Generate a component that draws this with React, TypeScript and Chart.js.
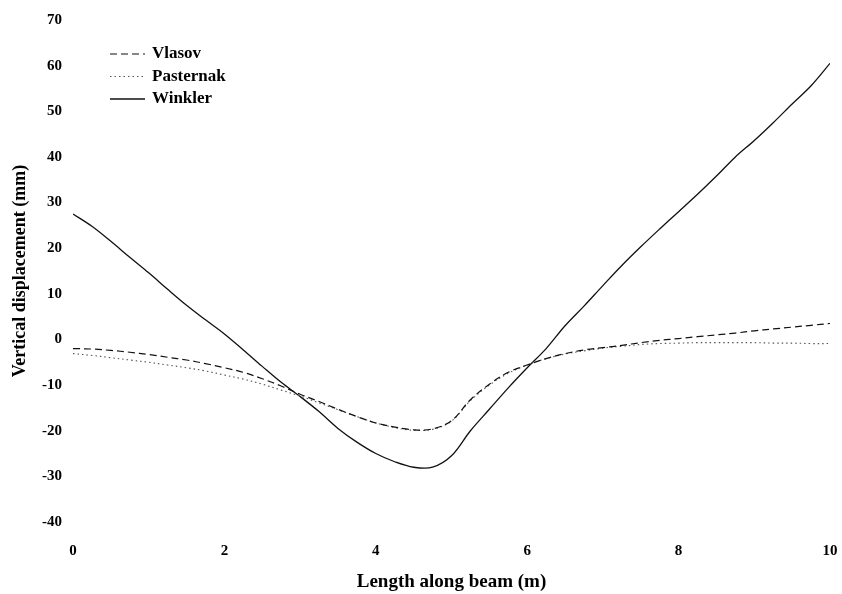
import React, { useEffect, useRef } from "react";
import { Chart, registerables } from "chart.js";

Chart.register(...registerables);

// x positions along the beam (m)
const xPositions: number[] = [
  0, 0.25, 0.5, 0.75, 1, 1.25, 1.5, 1.75, 2, 2.25, 2.5, 2.75, 3, 3.25, 3.5, 3.75, 4, 4.25, 4.5, 4.75,
  5, 5.25, 5.5, 5.75, 6, 6.25, 6.5, 6.75, 7, 7.25, 7.5, 7.75, 8, 8.25, 8.5, 8.75, 9, 9.25, 9.5, 9.75, 10,
];

const vlasov: number[] = [
  -2.0, -2.1, -2.4, -2.8, -3.3, -3.9, -4.5, -5.3, -6.2, -7.2, -8.6, -10.2, -12.0, -13.6, -15.3, -16.9,
  -18.3, -19.2, -19.8, -19.6, -17.8, -13.2, -9.8, -7.2, -5.6, -4.2, -3.1, -2.3, -1.8, -1.3, -0.7, -0.2,
  0.2, 0.6, 1.0, 1.4, 1.9, 2.3, 2.7, 3.1, 3.5,
];

const pasternak: number[] = [
  -3.1, -3.5, -4.0, -4.5, -5.0, -5.6, -6.2, -6.9, -7.8, -8.7, -9.8, -11.1, -12.4, -13.9, -15.4, -16.9,
  -18.3, -19.3, -19.9, -19.7, -17.9, -13.4, -10.0, -7.4, -5.6, -4.2, -3.2, -2.5, -1.9, -1.5, -1.1, -0.9,
  -0.8, -0.7, -0.7, -0.7, -0.7, -0.8, -0.8, -0.9, -0.9,
];

const winkler: number[] = [
  27.5, 24.8, 21.5, 18.0, 14.6, 11.0, 7.5, 4.3, 1.2, -2.3, -5.9, -9.4, -12.5, -15.8, -19.5, -22.5,
  -25.0, -26.8, -28.0, -28.0, -25.5, -20.0, -15.3, -10.6, -6.2, -2.0, 3.0, 7.3, 11.8, 16.2, 20.3, 24.2,
  28.0, 31.8, 35.8, 40.0, 43.6, 47.5, 51.6, 55.6, 60.5,
];

const seriesLabels: string[] = ["Vlasov", "Pasternak", "Winkler"];
const xTitle = "Length along beam (m)";
const yTitle = "Vertical displacement (mm)";
const X_MIN = 0, X_MAX = 10, X_STEP = 2;
const Y_MIN = -40, Y_MAX = 70, Y_STEP = 10;

const SERIF = '"Liberation Serif", "Times New Roman", serif';

const innerLegend = {
  id: "innerLegend",
  afterDatasetsDraw(chart: any) {
    const ctx = chart.ctx as CanvasRenderingContext2D;
    const area = chart.chartArea;
    const x0 = area.left + 37;
    const y0 = area.top + 34;
    chart.data.datasets.forEach((ds: any, i: number) => {
      const y = y0 + i * 22.5;
      ctx.save();
      ctx.strokeStyle = ds.borderColor;
      ctx.lineWidth = ds.borderWidth;
      ctx.setLineDash(ds.borderDash || []);
      ctx.beginPath();
      ctx.moveTo(x0, y);
      ctx.lineTo(x0 + 35, y);
      ctx.stroke();
      ctx.setLineDash([]);
      ctx.fillStyle = "#000";
      ctx.font = `bold 17px ${SERIF}`;
      ctx.textBaseline = "middle";
      ctx.textAlign = "left";
      ctx.fillText(ds.label, x0 + 42, y);
      ctx.restore();
    });
  },
};

export default function App() {
  const canvasRef = useRef<HTMLCanvasElement | null>(null);

  useEffect(() => {
    document.body.style.margin = "0";
    const canvas = canvasRef.current;
    if (!canvas) return;
    const mk = (ys: number[]) => xPositions.map((x, i) => ({ x, y: ys[i] }));
    const chart = new Chart(canvas, {
      type: "line",
      data: {
        datasets: [
          {
            label: seriesLabels[0],
            data: mk(vlasov),
            borderColor: "#111",
            borderWidth: 1.2,
            borderDash: [7, 4],
            pointRadius: 0,
            tension: 0.35,
            fill: false,
          },
          {
            label: seriesLabels[1],
            data: mk(pasternak),
            borderColor: "#555",
            borderWidth: 1.1,
            borderDash: [1.5, 3],
            pointRadius: 0,
            tension: 0.35,
            fill: false,
          },
          {
            label: seriesLabels[2],
            data: mk(winkler),
            borderColor: "#111",
            borderWidth: 1.3,
            pointRadius: 0,
            tension: 0.35,
            fill: false,
          },
        ],
      },
      options: {
        animation: false,
        responsive: false,
        layout: { padding: { top: 18, right: 12, left: 0, bottom: 0 } },
        plugins: {
          legend: { display: false },
          tooltip: { enabled: false },
        },
        scales: {
          x: {
            type: "linear",
            min: X_MIN,
            max: X_MAX,
            grid: { display: false, drawTicks: false },
            border: { display: false },
            ticks: {
              stepSize: X_STEP,
              padding: 20,
              color: "#000",
              font: { family: SERIF, weight: "bold", size: 15 },
              maxRotation: 0,
            },
            title: {
              display: true,
              text: xTitle,
              color: "#000",
              font: { family: SERIF, weight: "bold", size: 19 },
              padding: { top: 0, bottom: 1 },
            },
            afterFit(scale: any) {
              scale.height = 72;
              scale.paddingLeft = 0;
              scale.paddingRight = 0;
            },
          },
          y: {
            type: "linear",
            min: Y_MIN,
            max: Y_MAX,
            grid: { display: false, drawTicks: false },
            border: { display: false },
            ticks: {
              stepSize: Y_STEP,
              padding: 11,
              color: "#000",
              font: { family: SERIF, weight: "bold", size: 15 },
            },
            title: {
              display: true,
              text: yTitle,
              color: "#000",
              font: { family: SERIF, weight: "bold", size: 18 },
              padding: { top: 10, bottom: 0 },
            },
            afterFit(scale: any) {
              scale.width = 73;
            },
          },
        },
      },
      plugins: [innerLegend],
    });
    return () => chart.destroy();
  }, []);

  return (
    <div style={{ width: 842, height: 594 }}>
      <canvas ref={canvasRef} width={842} height={594} style={{ display: "block" }} />
    </div>
  );
}
